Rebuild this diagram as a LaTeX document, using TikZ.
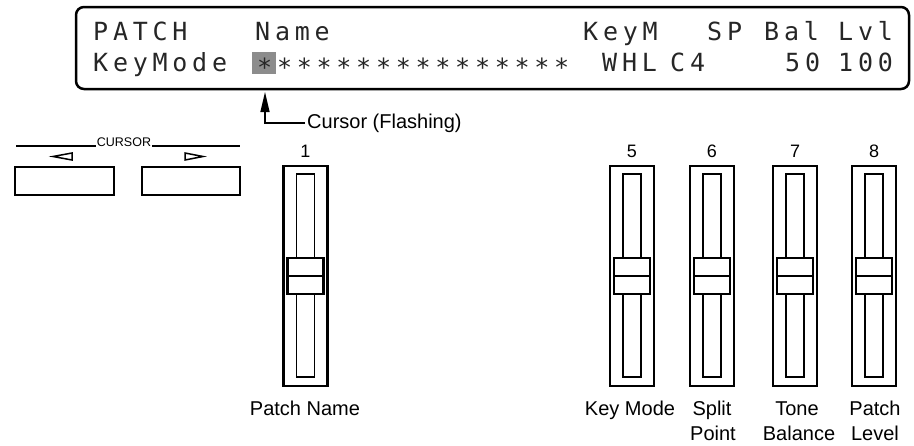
\documentclass[tikz,border=0pt]{standalone}
\usepackage{fontspec}
\usetikzlibrary{arrows.meta}
\newfontfamily\lcdfont[LetterSpace=19]{DejaVu Sans Mono}
\newfontfamily\labfont{Liberation Sans}
\tikzset{
  lcd/.style={anchor=base west, inner sep=0pt, font=\lcdfont\fontsize{25}{25}\selectfont, text=black!85},
  lab/.style={anchor=base, inner sep=0pt, font=\labfont\fontsize{20}{20}\selectfont},
  num/.style={anchor=base, inner sep=0pt, font=\labfont\fontsize{18}{18}\selectfont},
  outer/.style={draw, line width=2.4pt},
  slot/.style={draw, line width=1.4pt},
  knob/.style={draw, fill=white, line width=2.4pt},
  btn/.style={draw, line width=2pt},
}
\newcommand{\fader}[3]{%
  \node[num] (n#3) at (#1,157) {#2};
  \draw[outer] (#1-22,166) rectangle (#1+22,386);
  \draw[slot] (#1-9,174) rectangle (#1+9,377);
  \draw[knob] (#1-18,258) rectangle (#1+18,294);
  \draw[line width=2.6pt] (#1-19,276) -- (#1+19,276);
}
\begin{document}
\begin{tikzpicture}[x=1pt,y=-1pt]
\useasboundingbox (0,0) rectangle (914,445);
% LCD
\draw[line width=2.5pt, rounded corners=8pt] (76,7) rectangle (909,89);
\node[lcd] (patch) at (93,40) {PATCH};
\node[lcd] (name) at (255,40) {Name};
\node[lcd] (keym) at (583,40) {KeyM};
\node[lcd] (sp) at (707,40) {SP};
\node[lcd] (bal) at (764,40) {Bal};
\node[lcd] (lvl) at (838,40) {Lvl};
\node[lcd] (keymode) at (93,71) {KeyMode};
\fill[black!45] (252,52) rectangle (276,74);
\node[lcd] (stars) at (257,71) {\raisebox{-5pt}{****************}};
\node[lcd] (whl) at (602,71) {WHL};
\node[lcd] (c4) at (670,71) {C4};
\node[lcd] (fifty) at (785,71) {50};
\node[lcd] (hundred) at (838,71) {100};
% cursor arrow
\coordinate (tip) at (265,92);
\node[anchor=west, inner sep=2pt, font=\labfont\fontsize{20}{20}\selectfont] (cur) at (305,123) {Cursor (Flashing)};
\draw[line width=1.3pt, -{Triangle[length=20pt,width=9pt]}] (cur.west) -| (tip);
% cursor buttons
\node[anchor=base, inner sep=1pt, font=\labfont\fontsize{12.5}{12.5}\selectfont] (cursor) at (124,146) {CURSOR};
\coordinate (cl) at (16,146);
\coordinate (cr) at (240,146);
\draw[line width=1.4pt] (cl) -- (cursor.base west);
\draw[line width=1.4pt] (cursor.base east) -- (cr);
\draw[line width=1.5pt] (72,153) -- (53,156.5) -- (72,160) -- cycle;
\draw[line width=1.5pt] (185,153) -- (203,156.5) -- (185,160) -- cycle;
\draw[btn] (15,167) rectangle (114,195);
\draw[btn] (142,167) rectangle (240,195);
% faders
\fader{305.5}{1}{a}
\fader{632}{5}{b}
\fader{712}{6}{c}
\fader{795}{7}{d}
\fader{874}{8}{e}
% labels
\node[lab] (l1) at (305,415) {Patch Name};
\node[lab] (l5) at (630,415) {Key Mode};
\node[lab] (l6a) at (712,415) {Split};
\node[lab] (l6b) at (713,440) {Point};
\node[lab] (l7a) at (797,415) {Tone};
\node[lab] (l7b) at (799,440) {Balance};
\node[lab] (l8a) at (875,415) {Patch};
\node[lab] (l8b) at (875,440) {Level};
\end{tikzpicture}
\end{document}
